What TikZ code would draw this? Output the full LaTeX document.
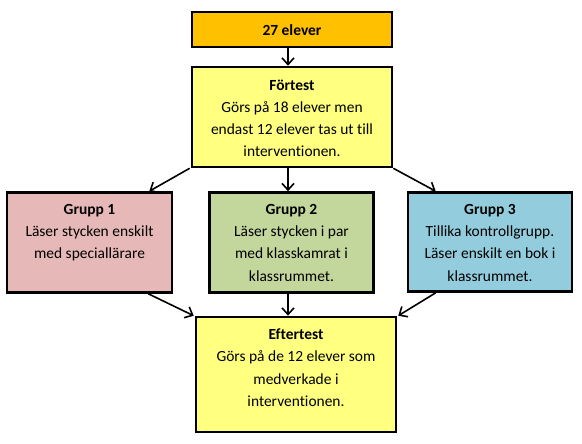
\documentclass[tikz,border=0pt]{standalone}
\usepackage{fontspec}
\setmainfont{Carlito}[Ligatures=NoCommon]
\usetikzlibrary{arrows.meta,calc}
\definecolor{orangebox}{HTML}{FFC000}
\definecolor{yellowbox}{HTML}{FFFF80}
\definecolor{pinkbox}{HTML}{E6B9B8}
\definecolor{greenbox}{HTML}{C3D69B}
\definecolor{bluebox}{HTML}{93CDDD}
\tikzset{
  box/.style={draw=black, line width=1.9pt, inner sep=0pt},
  txt/.style={anchor=north, align=center, inner sep=0pt,
    font=\fontsize{11.6}{16.6}\selectfont},
  conn/.style={line width=1.2pt, -{Straight Barb[length=5pt,width=9pt,line width=1.2pt]}}
}
\begin{document}
\begin{tikzpicture}[x=0.75pt,y=-0.75pt]
\useasboundingbox (0,0) rectangle (582,443);
\fill[white] (0,0) rectangle (582,443);
% boxes
\node[box, fill=orangebox, minimum width=200*0.75pt, minimum height=35*0.75pt] (top) at (292,29.5) {};
\node[box, fill=yellowbox, minimum width=200*0.75pt, minimum height=100*0.75pt] (pre) at (292,117) {};
\node[box, fill=pinkbox, minimum width=165*0.75pt, minimum height=100*0.75pt] (g1) at (89.5,242.5) {};
\node[box, fill=greenbox, minimum width=164*0.75pt, minimum height=100*0.75pt] (g2) at (291.5,242.5) {};
\node[box, fill=bluebox, minimum width=164*0.75pt, minimum height=99*0.75pt] (g3) at (490,242) {};
\node[box, fill=yellowbox, minimum width=200*0.75pt, minimum height=115*0.75pt] (post) at (296,374.5) {};
% texts
\node[anchor=center, inner sep=0pt, font=\fontsize{11.6}{16.6}\selectfont\bfseries] (ttop) at ([yshift=-1*0.75pt]top.center) {27 elever};
\node[txt] (tpre) at ([yshift=-14*0.75pt]pre.north) {\textbf{Förtest}\\Görs på 18 elever men\\endast 12 elever tas ut till\\interventionen.};
\node[txt] (tg1) at ([yshift=-13*0.75pt]g1.north) {\textbf{Grupp 1}\\Läser stycken enskilt\\med speciallärare};
\node[txt] (tg2) at ([yshift=-13*0.75pt]g2.north) {\textbf{Grupp 2}\\Läser stycken i par\\med klasskamrat i\\klassrummet.};
\node[txt] (tg3) at ([yshift=-13*0.75pt]g3.north) {\textbf{Grupp 3}\\Tillika kontrollgrupp.\\Läser enskilt en bok i\\klassrummet.};
\node[txt] (tpost) at ([yshift=-13*0.75pt]post.north) {\textbf{Eftertest}\\Görs på de 12 elever som\\medverkade i\\interventionen.};
% connectors
\draw[conn] ([xshift=-4*0.75pt]top.south) -- ([xshift=-4*0.75pt]pre.north);
\draw[conn] ([xshift=-1*0.75pt]pre.south west) -- ([xshift=-24*0.75pt]g1.north east);
\draw[conn] ([xshift=-4*0.75pt]pre.south) -- ([xshift=-3.5*0.75pt]g2.north);
\draw[conn] (pre.south east) -- ([xshift=29*0.75pt]g3.north west);
\draw[conn] ([xshift=-25*0.75pt]g1.south east) -- ([xshift=-1*0.75pt]post.north west);
\draw[conn] ([xshift=-3.5*0.75pt]g2.south) -- ([xshift=-8*0.75pt]post.north);
\draw[conn] ([xshift=29*0.75pt]g3.south west) -- ([xshift=1*0.75pt]post.north east);
\end{tikzpicture}
\end{document}
